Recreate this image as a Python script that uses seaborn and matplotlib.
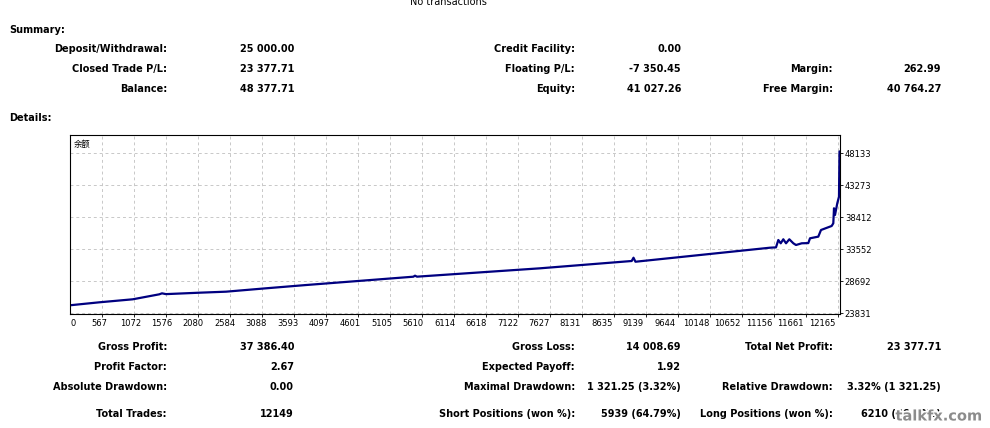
import matplotlib
matplotlib.use('Agg')
import matplotlib.pyplot as plt
import matplotlib.patheffects as pe
import seaborn as sns
import pandas as pd

# balance curve (trade index, balance)
trade_no = [0, 469, 998, 1419, 1462, 1525, 2053, 2476, 3109, 3743, 5443, 5470,
            5501, 7450, 8902, 8931, 8962, 11093, 11188, 11225, 11263, 11304,
            11347, 11399, 11463, 11505, 11596, 11700, 11727, 11858, 11901,
            12070, 12096, 12107, 12123, 12159, 12186, 12194]
balance = [25000, 25456, 25912, 26670, 26820, 26700, 26915, 27070, 27583, 28080,
           29345, 29500, 29350, 30620, 31730, 32230, 31620, 33750, 33800, 34920,
           34420, 35030, 34420, 35030, 34420, 34160, 34420, 34450, 35180, 35430,
           36440, 37050, 37460, 39740, 38720, 40500, 41500, 48380]

x_tick_labels = ['0', '567', '1072', '1576', '2080', '2584', '3088', '3593', '4097',
                 '4601', '5105', '5610', '6114', '6618', '7122', '7627', '8131',
                 '8635', '9139', '9644', '10148', '10652', '11156', '11661', '12165']
y_ticks = [23831, 28692, 33552, 38412, 43273, 48133]

summary_rows = [
    [('Deposit/Withdrawal:', '25 000.00'), ('Credit Facility:', '0.00'), None],
    [('Closed Trade P/L:', '23 377.71'), ('Floating P/L:', '-7 350.45'), ('Margin:', '262.99')],
    [('Balance:', '48 377.71'), ('Equity:', '41 027.26'), ('Free Margin:', '40 764.27')],
]
detail_rows = [
    [('Gross Profit:', '37 386.40'), ('Gross Loss:', '14 008.69'), ('Total Net Profit:', '23 377.71')],
    [('Profit Factor:', '2.67'), ('Expected Payoff:', '1.92'), None],
    [('Absolute Drawdown:', '0.00'), ('Maximal Drawdown:', '1 321.25 (3.32%)'),
     ('Relative Drawdown:', '3.32% (1 321.25)')],
    [('Total Trades:', '12149'), ('Short Positions (won %):', '5939 (64.79%)'),
     ('Long Positions (won %):', '6210 (66.63%)')],
]

sns.set_style('white')
plt.rcParams['font.family'] = ['DejaVu Sans', 'Noto Sans CJK SC']
plt.rcParams['text.color'] = 'black'
plt.rcParams['xtick.color'] = 'black'
plt.rcParams['ytick.color'] = 'black'

W, H = 990, 428
fig = plt.figure(figsize=(W / 100, H / 100), dpi=100)

def px(x, y):
    return x / W, 1 - y / H

label_right = [167, 575, 833]
value_right = [294, 681, 941]
fs = 7

def put_rows(rows, ys):
    for row, y in zip(rows, ys):
        for col, cell in enumerate(row):
            if cell is None:
                continue
            lab, val = cell
            fig.text(*px(label_right[col], y), lab, ha='right', va='center',
                     fontsize=fs, fontweight='bold')
            fig.text(*px(value_right[col], y), val, ha='right', va='center',
                     fontsize=fs, fontweight='bold')

fig.text(*px(448, 2), 'No transactions', ha='center', va='center', fontsize=fs)
fig.text(*px(9, 30), 'Summary:', ha='left', va='center', fontsize=fs, fontweight='bold')
put_rows(summary_rows, [49, 69, 89])
fig.text(*px(9, 118), 'Details:', ha='left', va='center', fontsize=fs, fontweight='bold')
put_rows(detail_rows, [347, 367, 387, 414])

# chart
ax_left, ax_w = 69.7, 770.3
x_end = 12202
u = x_end / ax_w                      # trades per pixel
grid_x = [i * 32 * u for i in range(1, 25)]          # MT4 grid: one line every 32 px
label_x = [(72.7 - ax_left) * u] + [(99 + (k - 1) * 31.43 - ax_left) * u
                                    for k in range(1, 25)]

ax = fig.add_axes([ax_left / W, 1 - 314 / H, ax_w / W, 179 / H])
df = pd.DataFrame({'trade': trade_no, 'balance': balance})
sns.lineplot(data=df, x='trade', y='balance', ax=ax, color='#000080', lw=1.6)
ax.set_xlim(0, x_end)
ax.set_ylim(23680, 50870)
ax.set_xticks(label_x)
ax.set_xticklabels(x_tick_labels)
ax.set_xticks(grid_x, minor=True)
ax.set_yticks(y_ticks)
ax.set_yticklabels([str(t) for t in y_ticks])
ax.yaxis.tick_right()
ax.tick_params(axis='both', labelsize=6, length=2, width=0.6, pad=1.5,
               direction='out', color='#000000')
ax.tick_params(axis='x', which='major', length=0, pad=3.5)
ax.tick_params(axis='x', which='minor', bottom=True, length=2, width=0.6)
ax.tick_params(axis='y', right=True)
ax.grid(False)
ax.xaxis.grid(True, which='minor', color='#c8c8c8', linestyle=(0, (3, 3)), lw=0.7)
ax.yaxis.grid(True, which='major', color='#c8c8c8', linestyle=(0, (3, 3)), lw=0.7)
ax.set_xlabel('')
ax.set_ylabel('')
for s in ax.spines.values():
    s.set_color('black')
    s.set_linewidth(0.8)

ax.text(0.005, 0.95, '余额', transform=ax.transAxes, fontsize=6, ha='left', va='center',
        family=['Noto Sans CJK SC', 'DejaVu Sans'])

# watermark
fig.text(*px(939, 416), 'talkfx.com', ha='center', va='center', fontsize=10.5,
         fontweight='bold', color='#8c8c8c',
         path_effects=[pe.withStroke(linewidth=2.5, foreground='white')])

fig.savefig('out.png', dpi=100)
